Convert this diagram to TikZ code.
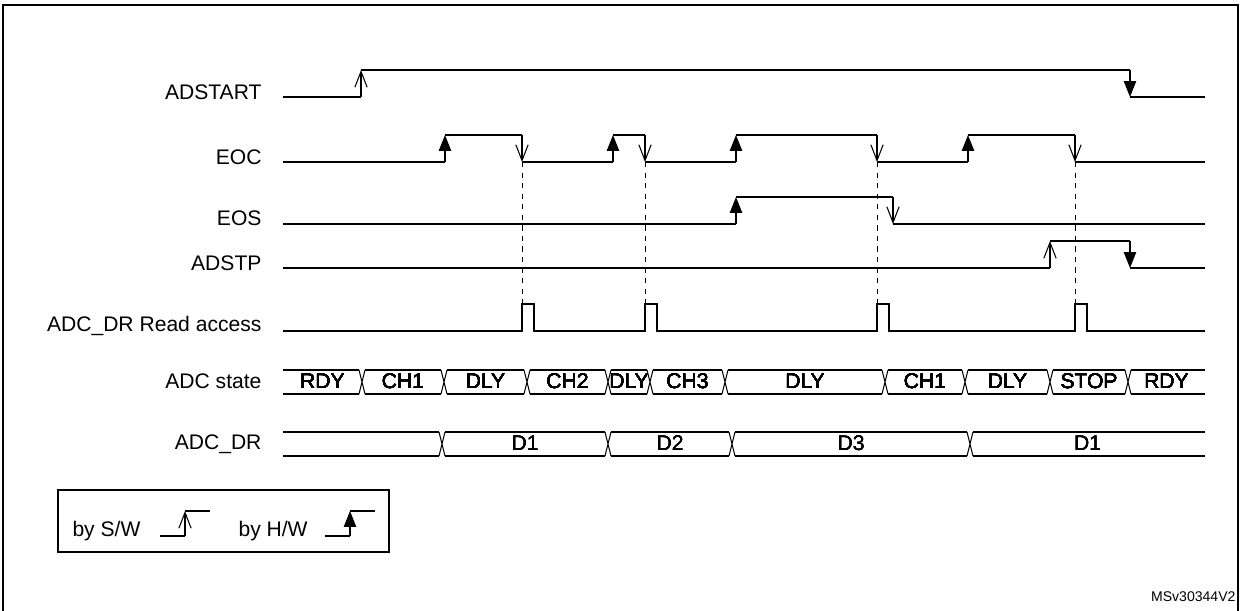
\documentclass[tikz,border=0pt]{standalone}
\usepackage{fontspec}
\setmainfont{Liberation Sans}
\usetikzlibrary{arrows.meta}
\newcommand{\busCross}[3]{% x, top, bottom
  \fill[white] (#1-3,#2-1) rectangle (#1+3,#3+1);
  \draw (#1-3,#2) -- (#1+3,#3) (#1-3,#3) -- (#1+3,#2);}

\begin{document}
\begin{tikzpicture}[x=0.02cm,y=-0.02cm,line width=0.6pt,font=\fontsize{12}{14}\selectfont]
\tikzstyle{sigLabel}=[anchor=east,inner sep=0pt]
\tikzstyle{busLabel}=[anchor=base,inner sep=0pt]
\tikzstyle{swEdge}=[-{Straight Barb[length=9pt,width=7pt]}]
\tikzstyle{hwEdge}=[-{Triangle[length=9pt,width=7pt]}]
\tikzstyle{readLine}=[dashed,line width=0.4pt]
\useasboundingbox (0,0) rectangle (1241,611);
\draw[line width=1pt] (3,611) -- (3,5) -- (1238,5) -- (1238,611);
% labels
\node[sigLabel] (l-adstart) at (262,92) {ADSTART};
\node[sigLabel] (l-eoc) at (262,157) {EOC};
\node[sigLabel] (l-eos) at (262,218) {EOS};
\node[sigLabel] (l-adstp) at (262,263) {ADSTP};
\node[sigLabel] (l-read) at (262,326) {ADC\_DR Read access};
\node[sigLabel] (l-state) at (262,381) {ADC state};
\node[sigLabel] (l-dr) at (262,444) {ADC\_DR};
% ADSTART
\draw (283,97) -- (361,97) (361,70) -- (1130,70) (1130,97) -- (1205,97);
\draw[swEdge] (361,97) -- (361,70);
\draw[hwEdge] (1130,70) -- (1130,97);
% EOC
\draw (283,162) -- (445,162) (445,135) -- (522,135) (522,162) -- (613,162) (613,135) -- (645,135)
      (645,162) -- (736,162) (736,135) -- (877,135) (877,162) -- (968,162) (968,135) -- (1075,135)
      (1075,162) -- (1205,162);
\foreach \x in {445,613,736,968} \draw[hwEdge] (\x,162) -- (\x,135);
\foreach \x in {522,645,877,1075} \draw[swEdge] (\x,135) -- (\x,162);
% EOS
\draw (283,224) -- (736,224) (736,197) -- (893,197) (893,224) -- (1205,224);
\draw[hwEdge] (736,224) -- (736,197);
\draw[swEdge] (893,197) -- (893,224);
% ADSTP
\draw (283,268) -- (1050,268) (1050,241) -- (1130,241) (1130,268) -- (1205,268);
\draw[swEdge] (1050,268) -- (1050,241);
\draw[hwEdge] (1130,241) -- (1130,268);
% read access
\draw (283,331) \foreach \x in {522,645,877,1075} { -- (\x,331) -- (\x,304) -- (\x+12,304) -- (\x+12,331) } -- (1205,331);
\foreach \x in {522,645,877,1075} \draw[readLine] (\x,162) -- (\x,304);
% ADC state
\draw (283,370) -- (1205,370) (283,394) -- (1205,394);
\foreach \x in {362,444,527,608,650,725,885,965,1050,1128} \busCross{\x}{370}{394}
\foreach \a/\b/\t in {283/362/RDY,362/444/CH1,444/527/DLY,527/608/CH2,608/650/DLY,650/725/CH3,725/885/DLY,885/965/CH1,965/1050/DLY,1050/1128/STOP,1128/1205/RDY}
  \node[busLabel] (s-\a) at ({(\a+\b)/2},388) {\t};
% ADC_DR
\draw (283,432) -- (1205,432) (283,456) -- (1205,456);
\foreach \x in {442,608,732,970} \busCross{\x}{432}{456}
\foreach \a/\b/\t in {442/608/D1,608/732/D2,732/970/D3,970/1205/D1}
  \node[busLabel] (d-\a) at ({(\a+\b)/2},450) {\t};
% legend
\draw (58,490) rectangle (389,552);
\node[anchor=west,inner sep=0pt] (sw) at (72,531) {by S/W};
\draw (160,536) -- (185,536) (185,511) -- (210,511);
\draw[swEdge] (185,536) -- (185,511);
\node[anchor=west,inner sep=0pt] (hw) at (238,531) {by H/W};
\draw (325,536) -- (350,536) (350,511) -- (375,511);
\draw[hwEdge] (350,536) -- (350,511);
\node[anchor=east,inner sep=0pt,font=\fontsize{8}{9}\selectfont] (ref) at (1236,597) {MSv30344V2};
\end{tikzpicture}
\end{document}
